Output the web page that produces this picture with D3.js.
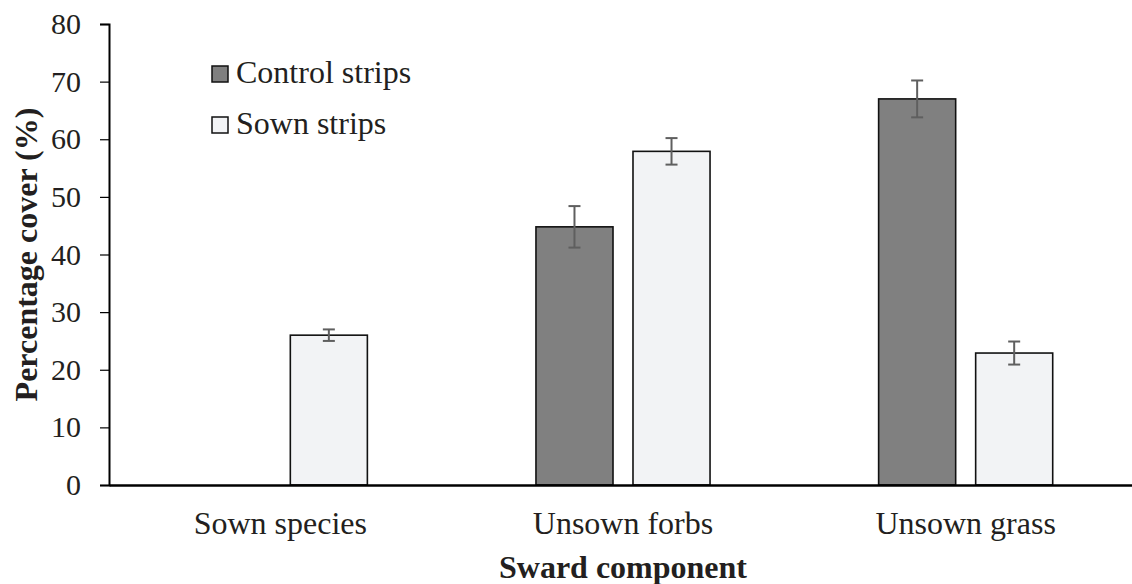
<!DOCTYPE html>
<html>
<head>
<meta charset="utf-8">
<script src="https://cdn.jsdelivr.net/npm/d3@7"></script>
<style>
  body { margin: 0; background: #fff; }
  text { font-family: "Liberation Serif", "Times New Roman", serif; fill: #231f20; }
</style>
</head>
<body>
<div id="chart"></div>
<script>
// Chart data
const categories = ["Sown species", "Unsown forbs", "Unsown grass"];
const seriesNames = ["Control strips", "Sown strips"];
const controlValues = [0, 44.8, 67.0];
const controlErrors = [0, 3.6, 3.2];
const sownValues = [26.0, 57.9, 22.9];
const sownErrors = [1.0, 2.3, 2.0];
const yTicks = [0, 10, 20, 30, 40, 50, 60, 70, 80];

const colors = { "Control strips": "#808080", "Sown strips": "#f2f3f5" };
const serif = "'Liberation Serif', 'Times New Roman', serif";

const width = 1132, height = 584;
const margin = { top: 24, right: -5, bottom: 99, left: 109 };
const innerW = width - margin.left - margin.right;
const innerH = height - margin.top - margin.bottom;

const svg = d3.select("#chart").append("svg")
  .attr("width", width)
  .attr("height", height);

const g = svg.append("g").attr("transform", `translate(${margin.left},${margin.top})`);

// Build rows from the arrays
const rows = categories.map((c, i) => ({
  category: c,
  values: [
    { series: seriesNames[0], value: controlValues[i], err: controlErrors[i] },
    { series: seriesNames[1], value: sownValues[i], err: sownErrors[i] }
  ]
}));

// Scales
const x0 = d3.scaleBand().domain(categories).range([0, innerW]).padding(0);
const groupW = x0.bandwidth() * 0.508;
const x1 = d3.scaleBand().domain(seriesNames)
  .range([(x0.bandwidth() - groupW) / 2, (x0.bandwidth() + groupW) / 2])
  .paddingInner(0.206).paddingOuter(0);
const y = d3.scaleLinear().domain([0, 80]).range([innerH, 0]);

// Bars
const groups = g.selectAll(".group")
  .data(rows)
  .enter().append("g")
  .attr("transform", d => `translate(${x0(d.category)},0)`);

groups.selectAll("rect")
  .data(d => d.values.filter(v => v.value > 0))
  .enter().append("rect")
  .attr("x", d => x1(d.series))
  .attr("y", d => y(d.value))
  .attr("width", x1.bandwidth())
  .attr("height", d => y(0) - y(d.value))
  .style("fill", d => colors[d.series])
  .style("stroke", "#111")
  .style("stroke-width", "1.6px");

// Error bars
const errs = groups.selectAll(".err")
  .data(d => d.values.filter(v => v.value > 0))
  .enter().append("g")
  .attr("class", "err")
  .style("stroke", "#5f5f5f")
  .style("stroke-width", "2px");

errs.append("line")
  .attr("x1", d => x1(d.series) + x1.bandwidth() / 2)
  .attr("x2", d => x1(d.series) + x1.bandwidth() / 2)
  .attr("y1", d => y(d.value + d.err))
  .attr("y2", d => y(d.value - d.err));

[1, -1].forEach(s => {
  errs.append("line")
    .attr("x1", d => x1(d.series) + x1.bandwidth() / 2 - 6)
    .attr("x2", d => x1(d.series) + x1.bandwidth() / 2 + 6)
    .attr("y1", d => y(d.value + s * d.err))
    .attr("y2", d => y(d.value + s * d.err));
});

// Y axis
const yAxis = g.append("g")
  .call(d3.axisLeft(y).tickValues(yTicks).tickSize(9).tickPadding(19));
yAxis.select(".domain").attr("stroke", "#000").attr("stroke-width", 2);
yAxis.selectAll(".tick line").attr("stroke", "#000").attr("stroke-width", 1.2);
yAxis.selectAll(".tick text")
  .style("font-size", "30px")
  .style("font-family", serif)
  .attr("fill", "#231f20");

// X axis
const xAxis = g.append("g")
  .attr("transform", `translate(0,${innerH})`)
  .call(d3.axisBottom(x0).tickSize(0).tickPadding(26));
xAxis.select(".domain").attr("stroke", "#000").attr("stroke-width", 2.5);
xAxis.selectAll(".tick text")
  .style("font-size", "32px")
  .style("font-family", serif)
  .attr("fill", "#231f20");

// Axis titles
svg.append("text")
  .attr("transform", `translate(37,${margin.top + innerH / 2}) rotate(-90)`)
  .style("text-anchor", "middle")
  .style("font-size", "32px")
  .style("font-weight", "bold")
  .text("Percentage cover (%)");

svg.append("text")
  .attr("x", 623)
  .attr("y", 578)
  .style("text-anchor", "middle")
  .style("font-size", "32px")
  .style("font-weight", "bold")
  .text("Sward component");

// Legend
const legend = svg.append("g").attr("transform", "translate(212,66)");
seriesNames.forEach((name, i) => {
  const row = legend.append("g").attr("transform", `translate(0,${i * 51})`);
  row.append("rect")
    .attr("width", 16)
    .attr("height", 16)
    .style("fill", colors[name])
    .style("stroke", "#111")
    .style("stroke-width", "1.5px");
  row.append("text")
    .attr("x", 24)
    .attr("y", 17)
    .style("font-size", "32px")
    .text(name);
});
</script>
</body>
</html>
